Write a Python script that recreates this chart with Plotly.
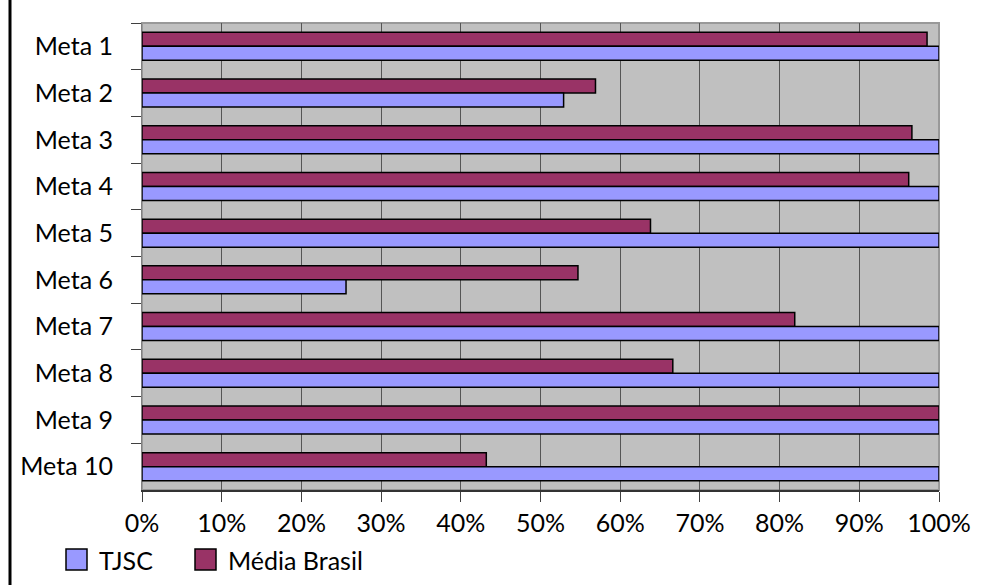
import plotly.graph_objects as go

categories = ["Meta 1", "Meta 2", "Meta 3", "Meta 4", "Meta 5",
              "Meta 6", "Meta 7", "Meta 8", "Meta 9", "Meta 10"]
tjsc = [1.00, 0.529, 1.00, 1.00, 1.00, 0.256, 1.00, 1.00, 1.00, 1.00]
media_brasil = [0.985, 0.569, 0.966, 0.962, 0.638, 0.547, 0.819, 0.666, 1.00, 0.432]
x_ticks = [0, 0.1, 0.2, 0.3, 0.4, 0.5, 0.6, 0.7, 0.8, 0.9, 1.0]
x_tick_labels = ["0%", "10%", "20%", "30%", "40%", "50%", "60%", "70%", "80%", "90%", "100%"]

FONT = "Lato"
FS = 25
C_TJSC = "#9999FF"
C_MEDIA = "#993366"

fig = go.Figure()
fig.add_trace(go.Bar(y=categories, x=media_brasil, orientation="h", name="Média Brasil",
                     marker=dict(color=C_MEDIA, line=dict(color="#000000", width=1.5)),
                     showlegend=False))
fig.add_trace(go.Bar(y=categories, x=tjsc, orientation="h", name="TJSC",
                     marker=dict(color=C_TJSC, line=dict(color="#000000", width=1.5)),
                     showlegend=False))

W, H = 994, 585
L, R, T, B = 142, 55, 23, 95
pw = W - L - R
ph = H - T - B

def px_x(p):
    return (p - L) / pw

def px_y(p):
    return 1 - (p - T) / ph

fig.update_layout(
    width=W, height=H,
    margin=dict(l=L, r=R, t=T, b=B),
    paper_bgcolor="white",
    plot_bgcolor="#C0C0C0",
    barmode="group",
    bargap=0.4,
    bargroupgap=0,
    font=dict(family=FONT, size=FS, color="#000000"),
    xaxis=dict(range=[0, 1], tickvals=x_ticks, ticktext=x_tick_labels,
               showgrid=True, gridcolor="#555555", gridwidth=1,
               ticks="outside", ticklen=10, tickcolor="#404040", tickwidth=1,
               showline=True, linecolor="#333333", linewidth=2,
               ticklabelstandoff=0,
               zeroline=False, tickfont=dict(size=FS, family=FONT)),
    yaxis=dict(autorange="reversed", type="category",
               tickson="boundaries", ticks="outside", ticklen=10,
               tickcolor="#404040", tickwidth=1, showgrid=False,
               showline=True, linecolor="#808080", linewidth=1,
               ticklabelstandoff=23,
               tickfont=dict(size=FS, family=FONT)),
)

# plot area border (top/right)
fig.add_shape(type="rect", xref="paper", yref="paper", x0=0, x1=1, y0=0, y1=1,
              line=dict(color="#999999", width=2), layer="below")
# left frame line
fig.add_shape(type="line", xref="paper", yref="paper", x0=px_x(10), x1=px_x(10),
              y0=px_y(585), y1=px_y(0), line=dict(color="#000000", width=3))

# manual legend
legend_items = [("TJSC", C_TJSC, 66, 97), ("Média Brasil", C_MEDIA, 195, 226)]
for name, col, sx, tx in legend_items:
    fig.add_shape(type="rect", xref="paper", yref="paper",
                  x0=px_x(sx), x1=px_x(sx + 21), y0=px_y(570), y1=px_y(549),
                  fillcolor=col, line=dict(color="#000000", width=1.5))
    fig.add_annotation(xref="paper", yref="paper", x=px_x(tx), y=px_y(560),
                       text=name, showarrow=False, xanchor="left", yanchor="middle",
                       font=dict(size=FS, family=FONT, color="#000000"))

fig.write_html("out.html")
